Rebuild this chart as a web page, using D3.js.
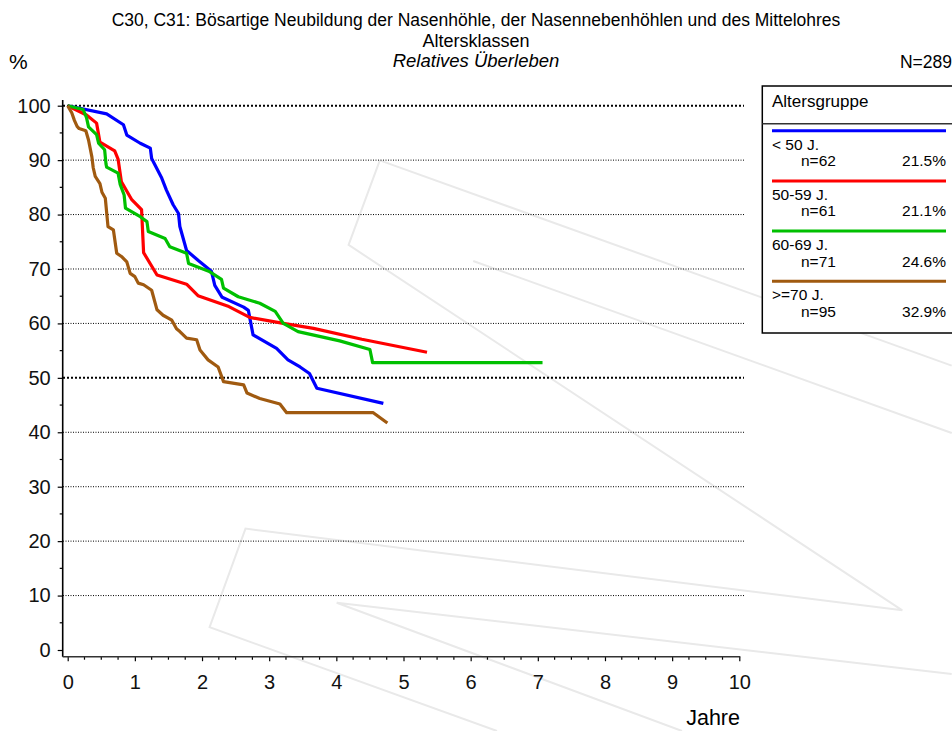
<!DOCTYPE html>
<html>
<head>
<meta charset="utf-8">
<script src="https://cdn.jsdelivr.net/npm/d3@7"></script>
<style>
  body { margin: 0; background: #fff; }
  svg { display: block; font-family: "Liberation Sans", Arial, sans-serif; }
</style>
</head>
<body>
<svg id="chart" width="952" height="731"></svg>
<script>
// survival curves, [years, percent]
var under50 = [[0,100],[0.58,98.5],[0.83,96.5],[0.88,94.6],[1.08,93.1],[1.23,92.2],[1.25,90.3],[1.40,86.7],
  [1.47,84.5],[1.57,81.8],[1.65,80.2],[1.67,77.8],[1.77,73.4],[1.94,71.6],[2.14,69.6],[2.19,67.0],[2.30,64.8],
  [2.62,63.0],[2.69,62.4],[2.76,57.9],[3.11,55.4],[3.28,53.3],[3.46,52.0],[3.60,50.8],[3.71,48.1],[4.70,45.3]];
var age50to59 = [[0,100],[0.28,98.3],[0.43,96.8],[0.48,93.3],[0.70,91.7],[0.75,90.2],[0.80,86.0],[0.95,82.8],
  [1.10,80.9],[1.13,73.0],[1.33,68.9],[1.77,67.2],[1.94,65.1],[2.40,63.1],[2.71,61.1],[3.21,60.0],[3.66,59.1],
  [4.38,57.1],[5.35,54.7]];
var age60to69 = [[0,100],[0.23,99.3],[0.28,97.8],[0.31,96.1],[0.43,94.7],[0.46,93.1],[0.55,91.9],[0.57,89.3],
  [0.58,88.7],[0.75,87.6],[0.78,85.6],[0.84,83.6],[0.86,81.2],[1.08,79.6],[1.18,78.7],[1.20,76.9],[1.45,75.6],
  [1.52,74.1],[1.77,72.9],[1.80,71.0],[2.10,69.6],[2.29,68.1],[2.32,66.5],[2.54,64.9],[2.86,63.7],[3.09,62.2],
  [3.21,60.0],[3.43,58.5],[4.05,56.8],[4.50,55.2],[4.54,52.8],[7.07,52.8]];
var age70plus = [[0,100],[0.06,98.7],[0.10,97.3],[0.14,96.2],[0.17,95.8],[0.27,95.4],[0.31,93.7],[0.36,90.6],
  [0.38,88.6],[0.41,87.0],[0.48,85.7],[0.51,84.1],[0.56,83.0],[0.60,77.8],[0.68,77.2],[0.73,72.9],[0.80,72.3],
  [0.88,71.3],[0.93,69.2],[1.00,68.6],[1.05,67.4],[1.13,67.1],[1.25,66.1],[1.33,62.5],[1.42,61.5],[1.55,60.6],
  [1.62,59.0],[1.67,58.5],[1.77,57.3],[1.92,57.0],[1.97,55.1],[2.09,53.3],[2.24,52.0],[2.32,49.3],[2.62,48.7],
  [2.67,47.2],[2.86,46.2],[3.16,45.2],[3.26,43.6],[4.55,43.6],[4.76,41.7]];

var groupNames = ["< 50 J.", "50-59 J.", "60-69 J.", ">=70 J."];
var groupN = ["n=62", "n=61", "n=71", "n=95"];
var groupPct = ["21.5%", "21.1%", "24.6%", "32.9%"];
var groupColors = ["#0000ff", "#ff0000", "#00c000", "#a05a10"];
var xTicks = [0, 1, 2, 3, 4, 5, 6, 7, 8, 9, 10];
var yTicks = [0, 10, 20, 30, 40, 50, 60, 70, 80, 90, 100];

var svg = d3.select("#chart");

var x = d3.scaleLinear().domain([0, 10]).range([67.7, 739.3]);
var y = d3.scaleLinear().domain([0, 100]).range([650, 105.7]);

// faint watermark in background (pixel -> data units so it goes through the scales)
function px(p) { return [x.invert(p[0]), y.invert(p[1])]; }
var watermark = [
  [[379.8,160.4],[951.7,365.6]],
  [[379.8,160.4],[348.6,244.9],[902.3,610.3],[245.5,528.6],[209.6,627.2],[497,731]],
  [[473.2,261],[951.7,433]],
  [[951.7,674],[336.7,602.7],[682,731]]
];
var line = d3.line()
    .x(function(d) { return x(d[0]); })
    .y(function(d) { return y(d[1]); });

svg.append("g").selectAll("path").data(watermark).enter().append("path")
    .attr("d", function(d) { return line(d.map(px)); })
    .attr("fill", "none")
    .attr("stroke", "#e9e9e9")
    .attr("stroke-width", 2);

// grid
svg.append("g").selectAll("line").data(yTicks.filter(function(v) { return v > 0; })).enter().append("line")
    .attr("x1", 63).attr("x2", 744)
    .attr("y1", function(d) { return y(d); })
    .attr("y2", function(d) { return y(d); })
    .attr("stroke", "#000")
    .attr("stroke-width", function(d) { return d == 50 || d == 100 ? 2 : 1; })
    .attr("stroke-dasharray", function(d) { return d == 50 || d == 100 ? "2,2" : "1,1.5"; });

// axes
var axisX = 62.7, axisY = 656.7;
var yAxis = d3.axisLeft(y).tickValues(yTicks).tickSize(5).tickPadding(7);
var gy = svg.append("g").attr("transform", "translate(" + axisX + ",0)").call(yAxis);
gy.select(".domain").remove();
gy.selectAll(".tick line").attr("stroke", "#000").attr("stroke-width", 1.2);
gy.selectAll(".tick text").attr("font-size", 20).attr("fill", "#111").attr("font-family", null);
gy.append("g").selectAll("line").data(d3.range(5, 100, 10)).enter().append("line")
    .attr("x1", -3).attr("x2", 0)
    .attr("y1", function(d) { return y(d); }).attr("y2", function(d) { return y(d); })
    .attr("stroke", "#000").attr("stroke-width", 1.2);

var xAxis = d3.axisBottom(x).tickValues(xTicks).tickSize(4.5).tickPadding(14);
var gx = svg.append("g").attr("transform", "translate(0," + axisY + ")").call(xAxis);
gx.select(".domain").remove();
gx.selectAll(".tick line").attr("stroke", "#000").attr("stroke-width", 1.2);
gx.selectAll(".tick text").attr("font-size", 20).attr("fill", "#111").attr("font-family", null);
gx.append("g").selectAll("line").data(d3.range(0.25, 10, 0.25).filter(function(d) { return d % 1 != 0; }))
  .enter().append("line")
    .attr("x1", function(d) { return x(d); }).attr("x2", function(d) { return x(d); })
    .attr("y1", 0).attr("y2", 3)
    .attr("stroke", "#000").attr("stroke-width", 1.2);

svg.append("line").attr("x1", axisX).attr("x2", axisX).attr("y1", 100).attr("y2", axisY)
    .attr("stroke", "#000").attr("stroke-width", 1.6);
svg.append("line").attr("x1", axisX).attr("x2", x(10) + 1).attr("y1", axisY).attr("y2", axisY)
    .attr("stroke", "#333").attr("stroke-width", 1.6);

// curves
var series = [under50, age50to59, age60to69, age70plus];
svg.append("g").selectAll("path").data(series).enter().append("path")
    .attr("d", line)
    .attr("fill", "none")
    .attr("stroke", function(d, i) { return groupColors[i]; })
    .attr("stroke-width", 3.2)
    .attr("stroke-linejoin", "round");

// titles
svg.append("text").attr("x", 476).attr("y", 26).attr("text-anchor", "middle").attr("font-size", 17.5)
    .text("C30, C31: Bösartige Neubildung der Nasenhöhle, der Nasennebenhöhlen und des Mittelohres");
svg.append("text").attr("x", 476).attr("y", 47).attr("text-anchor", "middle").attr("font-size", 18)
    .text("Altersklassen");
svg.append("text").attr("x", 476).attr("y", 67).attr("text-anchor", "middle").attr("font-size", 18.5)
    .attr("font-style", "italic").text("Relatives Überleben");
svg.append("text").attr("x", 9).attr("y", 69).attr("font-size", 21).text("%");
svg.append("text").attr("x", 952).attr("y", 68).attr("text-anchor", "end").attr("font-size", 17.5).text("N=289");
svg.append("text").attr("x", 740).attr("y", 725).attr("text-anchor", "end").attr("font-size", 21.5).text("Jahre");

// legend
var legend = svg.append("g");
legend.append("rect").attr("x", 762.3).attr("y", 86).attr("width", 200).attr("height", 247)
    .attr("fill", "#fff").attr("stroke", "#000").attr("stroke-width", 1.5);
legend.append("line").attr("x1", 762.3).attr("x2", 952).attr("y1", 123.7).attr("y2", 123.7)
    .attr("stroke", "#333").attr("stroke-width", 1.5);
legend.append("text").attr("x", 772).attr("y", 106.5).attr("font-size", 17).text("Altersgruppe");

var items = legend.selectAll(".item").data(groupNames).enter().append("g")
    .attr("class", "item")
    .attr("transform", function(d, i) { return "translate(0," + (130.7 + i * 50.2) + ")"; });
items.append("line").attr("x1", 772).attr("x2", 946).attr("y1", 0).attr("y2", 0)
    .attr("stroke", function(d, i) { return groupColors[i]; }).attr("stroke-width", 3);
items.append("text").attr("x", 772).attr("y", 19).attr("font-size", 15.5).text(function(d) { return d; });
items.append("text").attr("x", 801).attr("y", 35.5).attr("font-size", 15.5).text(function(d, i) { return groupN[i]; });
items.append("text").attr("x", 946).attr("y", 35.5).attr("text-anchor", "end").attr("font-size", 15.5)
    .text(function(d, i) { return groupPct[i]; });
</script>
</body>
</html>
